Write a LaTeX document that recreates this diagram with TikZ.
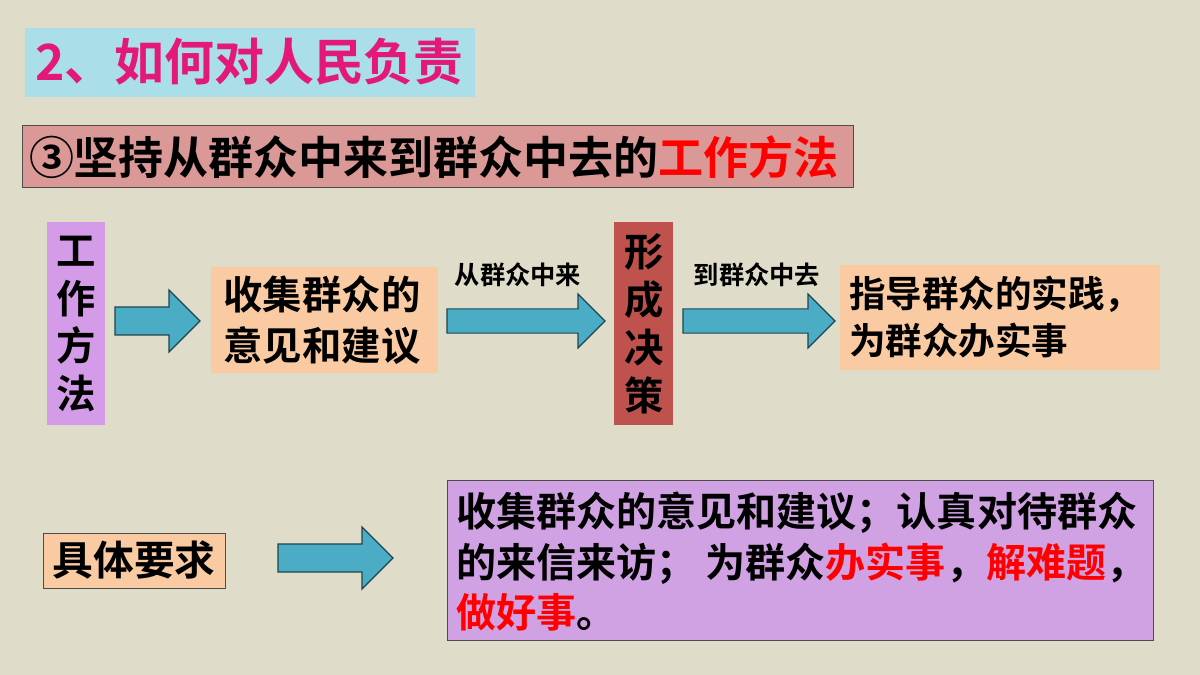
\documentclass[tikz,border=0pt]{standalone}
\usepackage{fontspec}
\setmainfont{Noto Sans CJK SC Bold}
\definecolor{bg}{RGB}{224,220,202}
\definecolor{tcyan}{RGB}{170,222,232}
\definecolor{tmag}{RGB}{228,24,120}
\definecolor{pinkbox}{RGB}{218,152,150}
\definecolor{violet}{RGB}{212,156,232}
\definecolor{peach}{RGB}{250,202,162}
\definecolor{redbox}{RGB}{192,82,78}
\definecolor{teal}{RGB}{75,172,198}
\definecolor{bigv}{RGB}{208,162,228}
\definecolor{rr}{RGB}{255,0,0}
\tikzset{
 box/.style={inner sep=0pt,outer sep=0pt},
 barrow/.style={fill=teal,draw=black!60!teal,line width=0.8pt},
}
\newcommand{\blockarrow}[4]{% x1 x2 ycenter halfheight
 \pgfmathsetmacro{\sh}{#4*0.45}
 \pgfmathsetmacro{\hx}{#2-(#4)*1.0}
 \draw[barrow] (#1,#3-\sh) -- (\hx,#3-\sh) -- (\hx,#3-#4) -- (#2,#3) -- (\hx,#3+#4) -- (\hx,#3+\sh) -- (#1,#3+\sh) -- cycle;}
\begin{document}
\begin{tikzpicture}[x=0.025cm,y=-0.025cm]
\fill[bg] (0,0) rectangle (1200,675);
\useasboundingbox (0,0) rectangle (1200,675);
% title
\fill[tcyan] (25,28) rectangle (475,97);
\node[box,anchor=west,text=tmag,font=\fontsize{35.5}{40}\selectfont] (title) at (35,62) {2、如何对人民负责};
% subtitle
\draw[fill=pinkbox,draw=black!70] (22,125) rectangle (853,187);
\node[box,anchor=west,font=\fontsize{32}{36}\selectfont] (sub) at (29,157) {③坚持从群众中来到群众中去的\textcolor{rr}{工作方法}};
% vertical work method
\fill[violet] (47,222) rectangle (105,425);
\node[box,align=center,font=\fontsize{28}{34}\selectfont] (gz) at (76,324) {工\\作\\方\\法};
\blockarrow{115}{200}{321}{31}
\fill[peach] (211,267) rectangle (438,373);
\node[box,align=left,font=\fontsize{28}{36}\selectfont] (sj) at (322,320) {收集群众的\\意见和建议};
\blockarrow{447}{605}{321}{27}
\node[box,font=\fontsize{18}{20}\selectfont] (l1) at (518,275) {从群众中来};
\fill[redbox] (614,222) rectangle (673,425);
\node[box,align=center,font=\fontsize{28}{34}\selectfont] (xc) at (644,324) {形\\成\\决\\策};
\blockarrow{683}{835}{321}{27}
\node[box,font=\fontsize{18}{20}\selectfont] (l2) at (757,275) {到群众中去};
\fill[peach] (840,265) rectangle (1160,370);
\node[box,align=left,anchor=west,font=\fontsize{26}{34}\selectfont] (zd) at (849,317) {指导群众的实践，\\为群众办实事};
% bottom
\draw[fill=peach,draw=black!70] (43,533) rectangle (225,588);
\node[box,font=\fontsize{29}{32}\selectfont] (jt) at (134,560) {具体要求};
\blockarrow{278}{393}{558}{31}
\draw[fill=bigv,draw=black!70] (447,480) rectangle (1153,640);
\node[box,align=left,anchor=north west,font=\fontsize{28.5}{36}\selectfont] (big) at (456,492) {收集群众的意见和建议；认真对待群众\\的来信来访； 为群众\textcolor{rr}{办实事}，\textcolor{rr}{解难题}，\\\textcolor{rr}{做好事}。};
\end{tikzpicture}
\end{document}
